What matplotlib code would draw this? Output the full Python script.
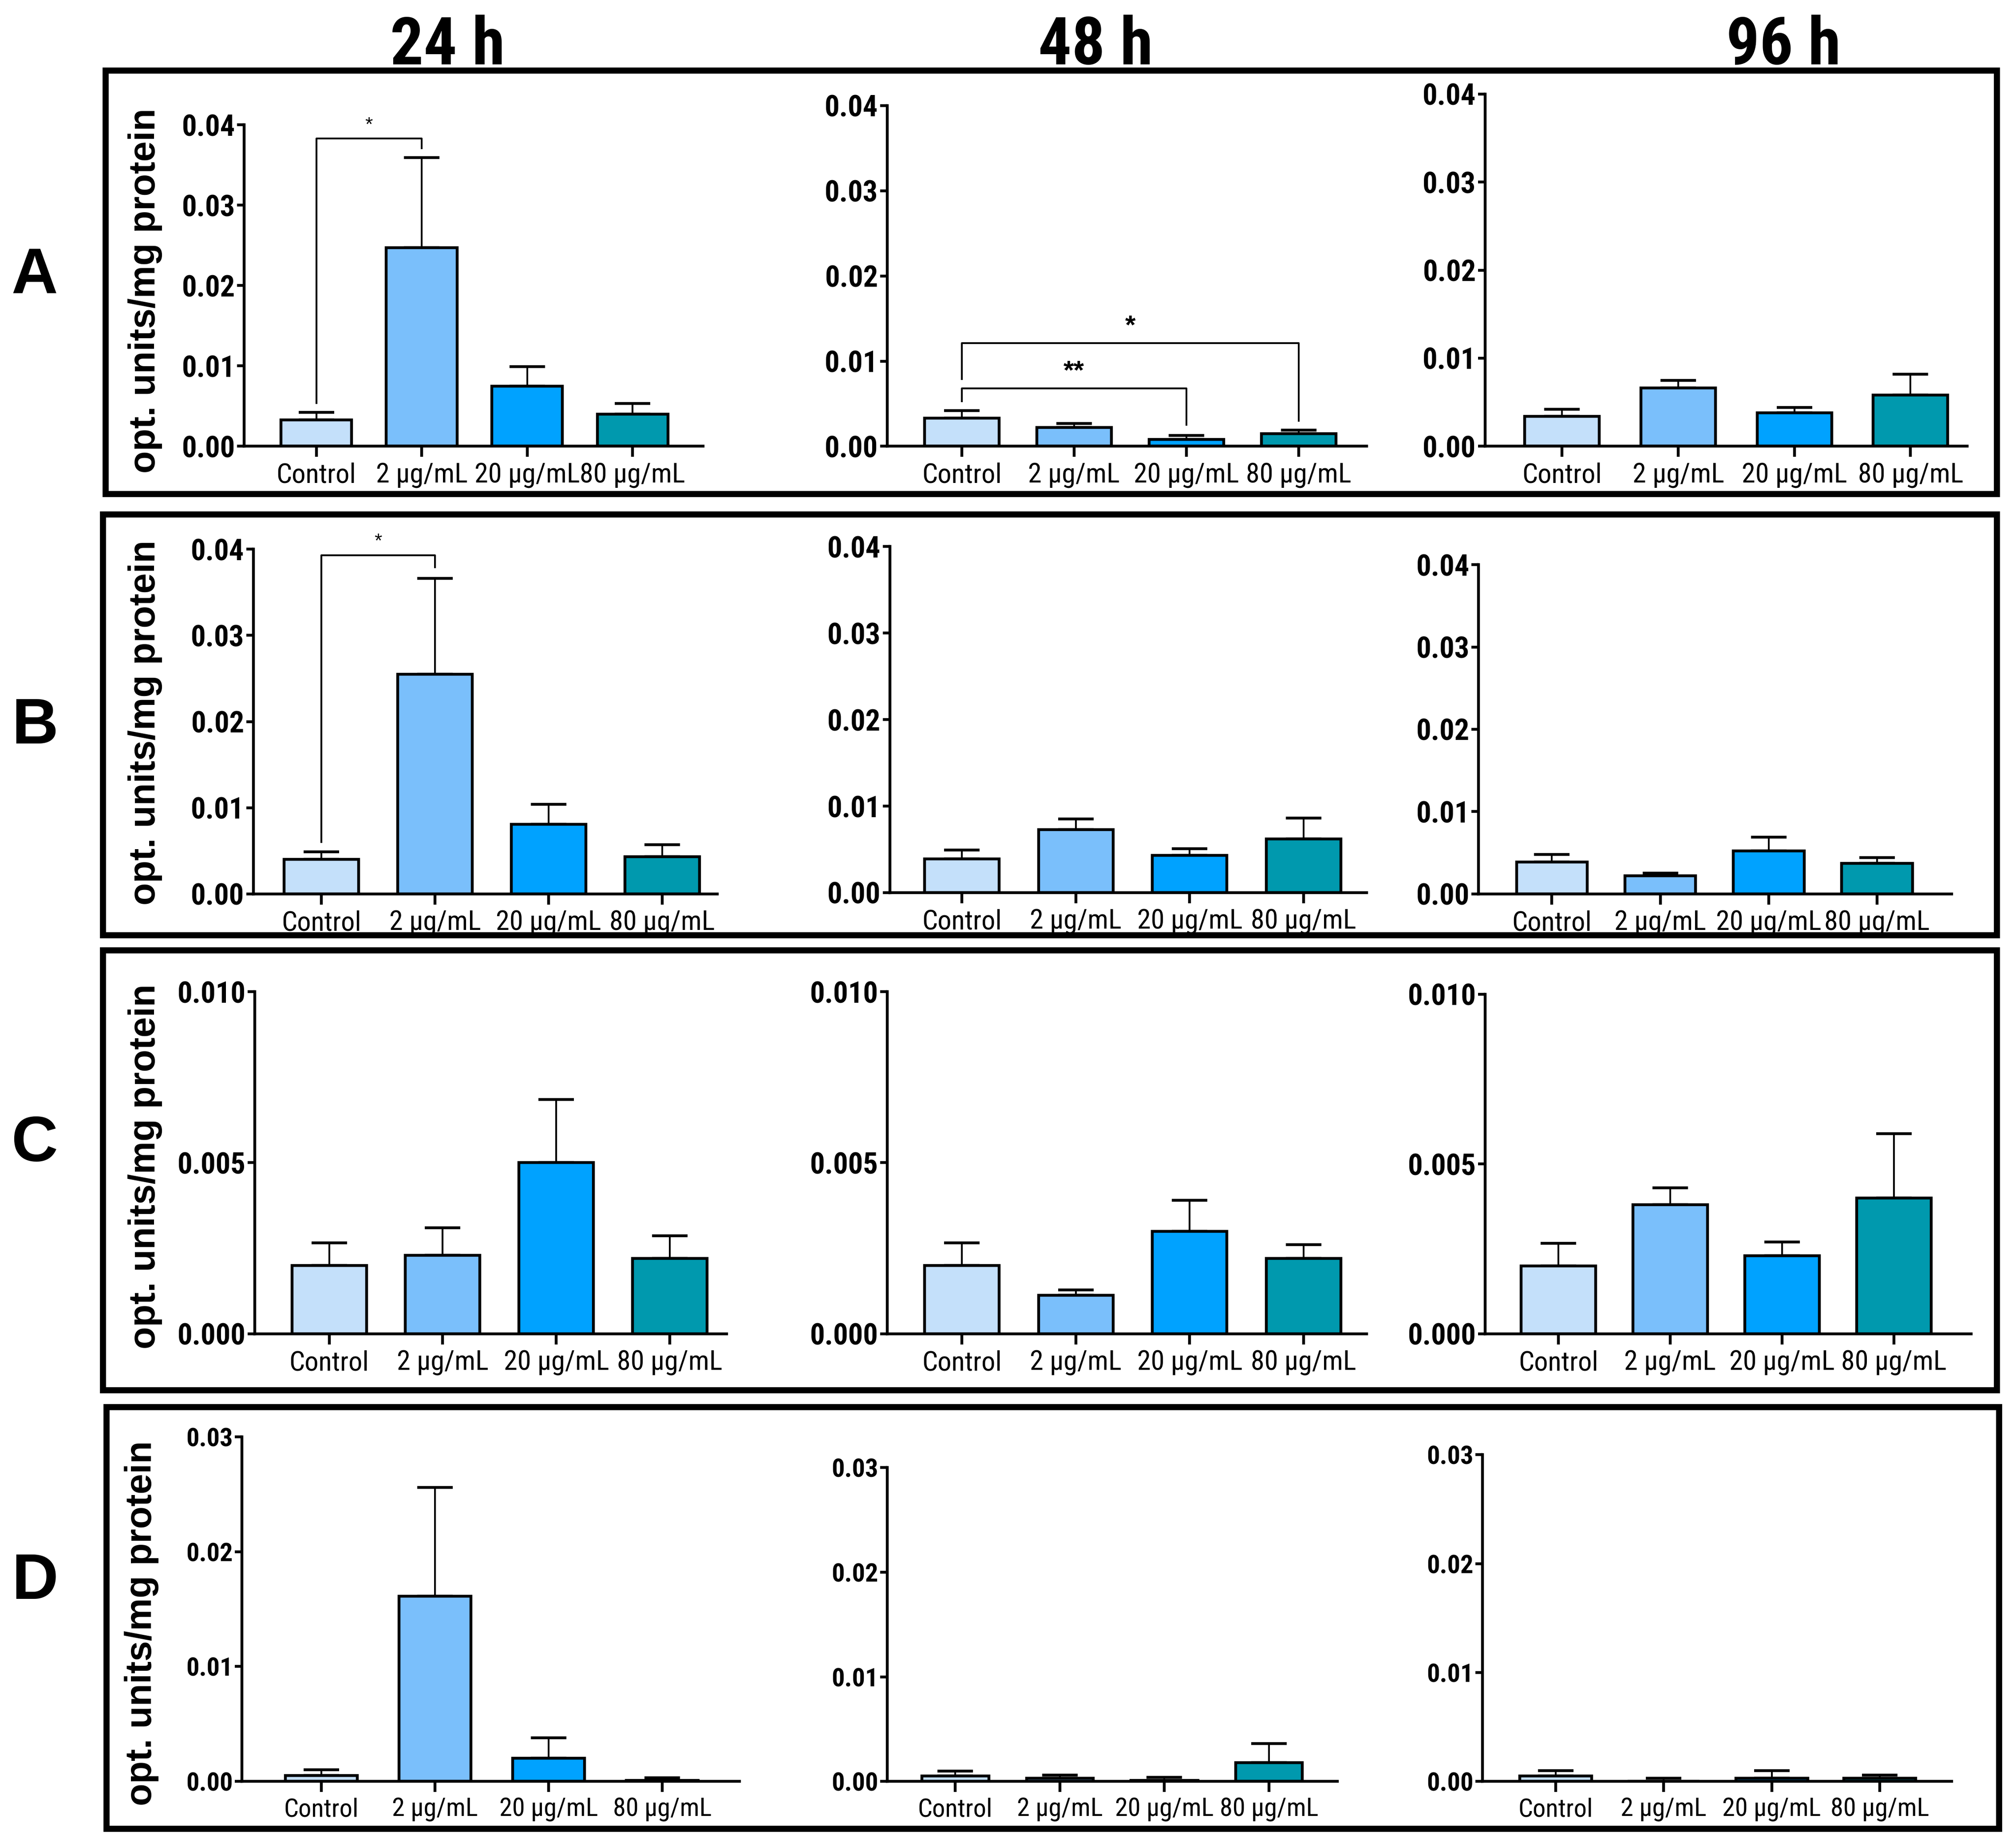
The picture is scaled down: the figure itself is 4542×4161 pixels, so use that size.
import numpy as np
import matplotlib.pyplot as plt
from matplotlib import font_manager as fm
from matplotlib.patches import Rectangle

# data
groups = ['Control', '2 µg/mL', '20 µg/mL', '80 µg/mL']
times = ['24 h', '48 h', '96 h']
rows = ['A', 'B', 'C', 'D']
colors = ['#C4E0FA', '#7ABFFB', '#00A2FF', '#0099AE']

a_mean = [[0.0033, 0.0247, 0.0075, 0.0040],
          [0.0033, 0.0022, 0.0008, 0.0015],
          [0.0034, 0.0066, 0.0038, 0.0058]]
a_sem = [[0.0009, 0.0112, 0.0024, 0.0013],
         [0.0009, 0.0005, 0.0005, 0.0004],
         [0.0008, 0.0009, 0.0006, 0.0024]]

b_mean = [[0.0040, 0.0255, 0.0081, 0.0043],
          [0.0039, 0.0073, 0.0043, 0.0062],
          [0.0039, 0.0022, 0.0052, 0.0037]]
b_sem = [[0.0009, 0.0111, 0.0023, 0.0014],
         [0.0010, 0.0012, 0.0008, 0.0024],
         [0.0009, 0.0003, 0.0017, 0.0007]]

c_mean = [[0.0020, 0.0023, 0.0050, 0.0022],
          [0.0020, 0.00113, 0.0030, 0.0022],
          [0.0020, 0.0038, 0.0023, 0.0040]]
c_sem = [[0.00066, 0.0008, 0.00185, 0.00067],
         [0.00066, 0.00015, 0.0009, 0.0004],
         [0.00066, 0.0005, 0.0004, 0.0019]]

d_mean = [[0.0005, 0.0161, 0.0020, 0.0001],
          [0.0005, 0.0003, 0.0001, 0.0018],
          [0.0005, 0.0000, 0.0003, 0.0003]]
d_sem = [[0.0005, 0.0095, 0.0018, 0.0002],
         [0.0005, 0.0003, 0.0003, 0.0018],
         [0.0005, 0.0003, 0.0007, 0.0003]]

means = [a_mean, b_mean, c_mean, d_mean]
sems = [a_sem, b_sem, c_sem, d_sem]
ymax = [0.04, 0.04, 0.010, 0.03]
ystep = [0.01, 0.01, 0.005, 0.01]
yfmt = ['%.2f', '%.2f', '%.3f', '%.2f']

# significance: row, col, x1, x2, bracket y, leg1 end, leg2 end, label
sig = [(0, 0, 0, 1, 0.0383, 0.0054, 0.0371, '*'),
       (0, 1, 0, 2, 0.0068, 0.0053, 0.0025, '**'),
       (0, 1, 0, 3, 0.0121, 0.0079, 0.0030, '*'),
       (1, 0, 0, 1, 0.0393, 0.0060, 0.0379, '*')]

# layout in pixels of a 1568 x 1436 sketch
W, H = 1568.0, 1436.0
# left, right, top, zero, first centre, last centre, bar width
layout = [
    [(190, 547, 97, 347, 246, 492, 55), (690, 1063, 82, 347, 748, 1010, 58), (1155, 1530, 73, 347, 1215, 1486, 58)],
    [(197, 558, 427, 695, 250, 515, 58), (692, 1063, 425, 694, 748, 1014, 58), (1150, 1518, 439, 695, 1207, 1460, 55)],
    [(198, 565, 771, 1037, 256, 521, 58), (690, 1063, 771, 1037, 748, 1014, 58), (1155, 1533, 773, 1037, 1212, 1473, 58)],
    [(188, 575, 1117, 1385, 250, 515, 56), (690, 1040, 1141, 1385, 743, 987, 52), (1153, 1518, 1131, 1385, 1210, 1462, 56)],
]
boxes = [(82, 55, 1553, 384), (80, 400, 1553, 727), (80, 739, 1553, 1081), (83, 1094, 1555, 1422)]
row_label_y = [215, 565, 890, 1230]
ylabel_y = [226, 562, 907, 1262]
ylabel_x = [113, 113, 113, 110]
title_x = [348, 852, 1387]

names = {f.name for f in fm.fontManager.ttflist}
narrow = 'Liberation Sans'
for cand in ['Liberation Sans Narrow', 'Arial Narrow', 'Roboto Condensed', 'Open Sans Condensed']:
    if cand in names:
        narrow = cand
        break
is_narrow = narrow != 'Liberation Sans'
plt.rcParams['font.family'] = ['Liberation Sans', 'DejaVu Sans']

fig = plt.figure(figsize=(4542 / 290, 4161 / 290), dpi=290)

for r in range(4):
    for c in range(3):
        L, R, T, Z, c0, c3, bw = layout[r][c]
        sp = (c3 - c0) / 3.0
        ax = fig.add_axes([L / W, 1 - Z / H, (R - L) / W, (Z - T) / H])
        x = np.arange(4)
        m = np.array(means[r][c])
        e = np.array(sems[r][c])
        ax.bar(x, m, width=bw / sp, color=colors, edgecolor='black', linewidth=1.6, zorder=2)
        ax.errorbar(x, m, yerr=[np.zeros(4), e], fmt='none', ecolor='black',
                    elinewidth=1.0, capsize=10, capthick=1.6, zorder=1)
        ax.set_xlim((L - c0) / sp, 3 + (R - c3) / sp)
        ax.set_ylim(0, ymax[r])
        ticks = np.arange(0, ymax[r] + 1e-9, ystep[r])
        ax.set_yticks(ticks)
        ax.set_yticklabels([yfmt[r] % t for t in ticks], fontfamily=narrow,
                           fontweight='bold', fontsize=16.5 if r < 3 else 14.5)
        ax.set_xticks(x)
        xfs = 15.5 if r < 3 else 14.5
        if not is_narrow:
            xfs = min(14, sp / 6.4)
        ax.set_xticklabels(groups, fontfamily=narrow, fontsize=xfs)
        for s in ['top', 'right']:
            ax.spines[s].set_visible(False)
        for s in ['left', 'bottom']:
            ax.spines[s].set_linewidth(1.6)
        ax.tick_params(axis='y', length=4, width=1.6, pad=1)
        ax.tick_params(axis='x', length=6, width=1.6, pad=3)
        ax.patch.set_alpha(0)
        for sr, sc, x1, x2, yb, l1, l2, lab in sig:
            if sr == r and sc == c:
                ax.plot([x1, x1, x2, x2], [l1, yb, yb, l2], color='black', lw=1.0,
                        clip_on=False, zorder=3)
                big = lab == '**' or (r == 0 and c == 1)
                ax.text((x1 + x2) / 2, yb + ymax[r] * 0.012, lab, ha='center', va='bottom',
                        fontsize=15 if big else 11, fontweight='bold' if big else 'normal',
                        clip_on=False)

for (x0, y0, x1, y1) in boxes:
    fig.add_artist(Rectangle((x0 / W, 1 - y1 / H), (x1 - x0) / W, (y1 - y0) / H,
                             transform=fig.transFigure, fill=False, lw=3.4, ec='black'))

for i, t in enumerate(times):
    fig.text(title_x[i] / W, 1 - 36 / H, t, ha='center', va='center',
             fontsize=37, fontweight='bold', fontfamily=narrow)

for i, lab in enumerate(rows):
    fig.text(27 / W, 1 - row_label_y[i] / H, lab, ha='center', va='center',
             fontsize=36, fontweight='bold')
    fig.text(ylabel_x[i] / W, 1 - ylabel_y[i] / H, 'opt. units/mg protein', ha='center',
             va='center', rotation=90, fontsize=20.5, fontweight='bold')

fig.savefig('out.png', dpi=290, facecolor='white')
